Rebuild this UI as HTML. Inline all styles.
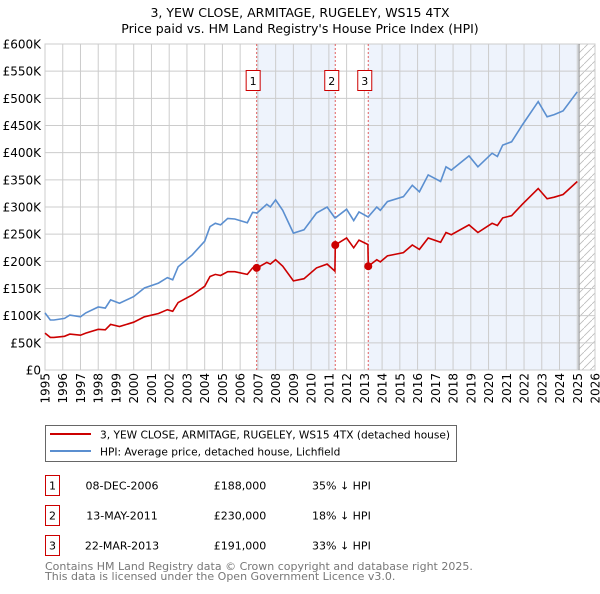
<!DOCTYPE html>
<html><head><meta charset="utf-8"><style>
body{margin:0;background:#fff;font-family:"DejaVu Sans","Liberation Sans",sans-serif;}
svg text{font-family:"DejaVu Sans","Liberation Sans",sans-serif;}
</style></head><body>
<svg id="c" width="600" height="590" viewBox="0 0 600 590" xmlns="http://www.w3.org/2000/svg">
<text x="300" y="17" text-anchor="middle" font-size="12.5" fill="#000">3, YEW CLOSE, ARMITAGE, RUGELEY, WS15 4TX</text>
<text x="300" y="33" text-anchor="middle" font-size="12.5" fill="#000">Price paid vs. HM Land Registry's House Price Index (HPI)</text>
<g id="plot"></g>
<rect x="45.5" y="425.5" width="411" height="36" fill="#fff" stroke="#666"/>
<line x1="50" y1="434" x2="91" y2="434" stroke="#cc0000" stroke-width="2"/>
<text x="100" y="438.5" font-size="10.6">3, YEW CLOSE, ARMITAGE, RUGELEY, WS15 4TX (detached house)</text>
<line x1="50" y1="451" x2="91" y2="451" stroke="#5b8fd0" stroke-width="2"/>
<text x="100" y="455.5" font-size="10.6">HPI: Average price, detached house, Lichfield</text>
<g font-size="11" fill="#000">
<rect x="45.5" y="475.5" width="14" height="20" fill="none" stroke="#cc0000"/>
<text x="52.5" y="489.5" text-anchor="middle">1</text>
<text x="122" y="489.5" text-anchor="middle">08-DEC-2006</text>
<text x="240" y="489.5" text-anchor="middle">£188,000</text>
<text x="312" y="489.5">35% ↓ HPI</text>
<rect x="45.5" y="505.5" width="14" height="20" fill="none" stroke="#cc0000"/>
<text x="52.5" y="519.5" text-anchor="middle">2</text>
<text x="122" y="519.5" text-anchor="middle">13-MAY-2011</text>
<text x="240" y="519.5" text-anchor="middle">£230,000</text>
<text x="312" y="519.5">18% ↓ HPI</text>
<rect x="45.5" y="535.5" width="14" height="20" fill="none" stroke="#cc0000"/>
<text x="52.5" y="549.5" text-anchor="middle">3</text>
<text x="122" y="549.5" text-anchor="middle">22-MAR-2013</text>
<text x="240" y="549.5" text-anchor="middle">£191,000</text>
<text x="312" y="549.5">33% ↓ HPI</text>
</g>
<text x="45" y="570" font-size="11" fill="#777">Contains HM Land Registry data © Crown copyright and database right 2025.</text>
<text x="45" y="580" font-size="11" fill="#777">This data is licensed under the Open Government Licence v3.0.</text>
</svg>
<script>
const dates=[1995.0,1995.3,1995.5,1996.1,1996.4,1997.0,1997.3,1998.0,1998.4,1998.7,1999.2,2000.0,2000.6,2001.4,2001.9,2002.2,2002.5,2003.3,2004.0,2004.3,2004.6,2004.9,2005.3,2005.7,2006.4,2006.7,2006.95,2007.5,2007.7,2008.0,2008.4,2009.0,2009.6,2010.3,2010.9,2011.34,2011.36,2012.0,2012.4,2012.7,2013.2,2013.22,2013.7,2013.9,2014.3,2015.2,2015.7,2016.1,2016.6,2017.3,2017.6,2017.9,2018.9,2019.4,2020.2,2020.5,2020.8,2021.3,2021.9,2022.8,2023.3,2023.7,2024.2,2025.0];
const hpiValues=[105,92,92,95,101,98,105,116,114,129,123,135,151,160,170,166,190,212,237,264,270,267,279,278,271,290,289,305,300,313,294,252,258,289,300,280,280,296,275,291,282,282,300,294,310,319,340,328,359,347,374,368,394,374,399,393,414,420,451,494,466,470,477,512];
const priceValues=[68,60,60,62,66,64,68,75,74,84,80,88,98,104,111,108,124,138,154,172,176,174,181,181,176,188,188,198,195,203,191,164,168,188,195,182,230,243,225,239,231,191,203,199,210,216,230,222,243,235,253,249,267,253,270,266,280,284,305,334,315,318,323,347];
const saleDates=[2006.93,2011.36,2013.22];
const salePrices=[188,230,191];
const saleLabels=["1","2","3"];
const yTicks=[0,50,100,150,200,250,300,350,400,450,500,550,600];
const yTickLabels=["£0","£50K","£100K","£150K","£200K","£250K","£300K","£350K","£400K","£450K","£500K","£550K","£600K"];
const xTicks=[1995,1996,1997,1998,1999,2000,2001,2002,2003,2004,2005,2006,2007,2008,2009,2010,2011,2012,2013,2014,2015,2016,2017,2018,2019,2020,2021,2022,2023,2024,2025,2026];
const dataEnd=2025.1;

const L=45,R=595,T=44,B=370;
const X=v=>L+(v-1995)/(2026-1995)*(R-L);
const Y=v=>B-v/600*(B-T);
const NS="http://www.w3.org/2000/svg";
const g=document.getElementById('plot');
function mk(t,a,p){const e=document.createElementNS(NS,t);for(const k in a)e.setAttribute(k,a[k]);(p||g).appendChild(e);return e;}

const defs=mk('defs',{});
const pat=mk('pattern',{id:'hatch',patternUnits:'userSpaceOnUse',width:8,height:8},defs);
mk('path',{d:'M0,8 L8,0',stroke:'#bbb','stroke-width':0.8},pat);

let r=mk('rect',{x:X(saleDates[0]),y:T,width:X(saleDates[1])-X(saleDates[0]),height:B-T,fill:'#eef3fc'});


r=mk('rect',{x:X(saleDates[2]),y:T,width:X(dataEnd)-X(saleDates[2]),height:B-T,fill:'#eef3fc'});


r=mk('rect',{x:X(dataEnd),y:T,width:R-X(dataEnd),height:B-T,fill:'url(#hatch)'});



yTicks.forEach((v,i)=>{
 const l=mk('line',{x1:L,x2:R,y1:Y(v),y2:Y(v),stroke:'#ccc','stroke-width':1});
 
 
 const t=mk('text',{x:L-4,y:Y(v)+4.5,'text-anchor':'end','font-size':12,fill:'#000'});
 
 
 t.textContent=yTickLabels[i];
});
xTicks.forEach(v=>{
 const l=mk('line',{x1:X(v),x2:X(v),y1:T,y2:B,stroke:'#ccc','stroke-width':1});
 
 
 const t=mk('text',{x:0,y:0,'text-anchor':'end','font-size':12,fill:'#000',transform:`translate(${X(v)+4.5},${B+3}) rotate(-90)`});
 
 
 t.textContent=v;
});
const fr=mk('rect',{x:L,y:T,width:R-L,height:B-T,fill:'none',stroke:'#ccc'});


const el=mk('line',{x1:X(dataEnd),x2:X(dataEnd),y1:T,y2:B,stroke:'#999','stroke-width':1.2});



saleDates.forEach((d,i)=>{
 const l=mk('line',{x1:X(d),x2:X(d),y1:T,y2:B,stroke:'#e06060','stroke-width':1,'stroke-dasharray':'2,2'});
 
 
});

const pts=(vals)=>dates.map((d,i)=>X(d).toFixed(1)+','+Y(vals[i]).toFixed(1)).join(' ');
const hp=mk('polyline',{points:pts(hpiValues),fill:'none',stroke:'#5b8fd0','stroke-width':1.6});


const pp=mk('polyline',{points:pts(priceValues),fill:'none',stroke:'#cc0000','stroke-width':1.6});



saleDates.forEach((d,i)=>{
 const c=mk('circle',{cx:X(d),cy:Y(salePrices[i]),r:4,fill:'#cc0000'});
 
 
 const bx=mk('rect',{x:X(d)-10.5,y:70.5,width:14,height:20,fill:'#fff',stroke:'#cc0000'});
 
 
 const t=mk('text',{x:X(d)-3.5,y:85,'text-anchor':'middle','font-size':11,fill:'#000'});
 
 
 t.textContent=saleLabels[i];
});
</script>
</body></html>
